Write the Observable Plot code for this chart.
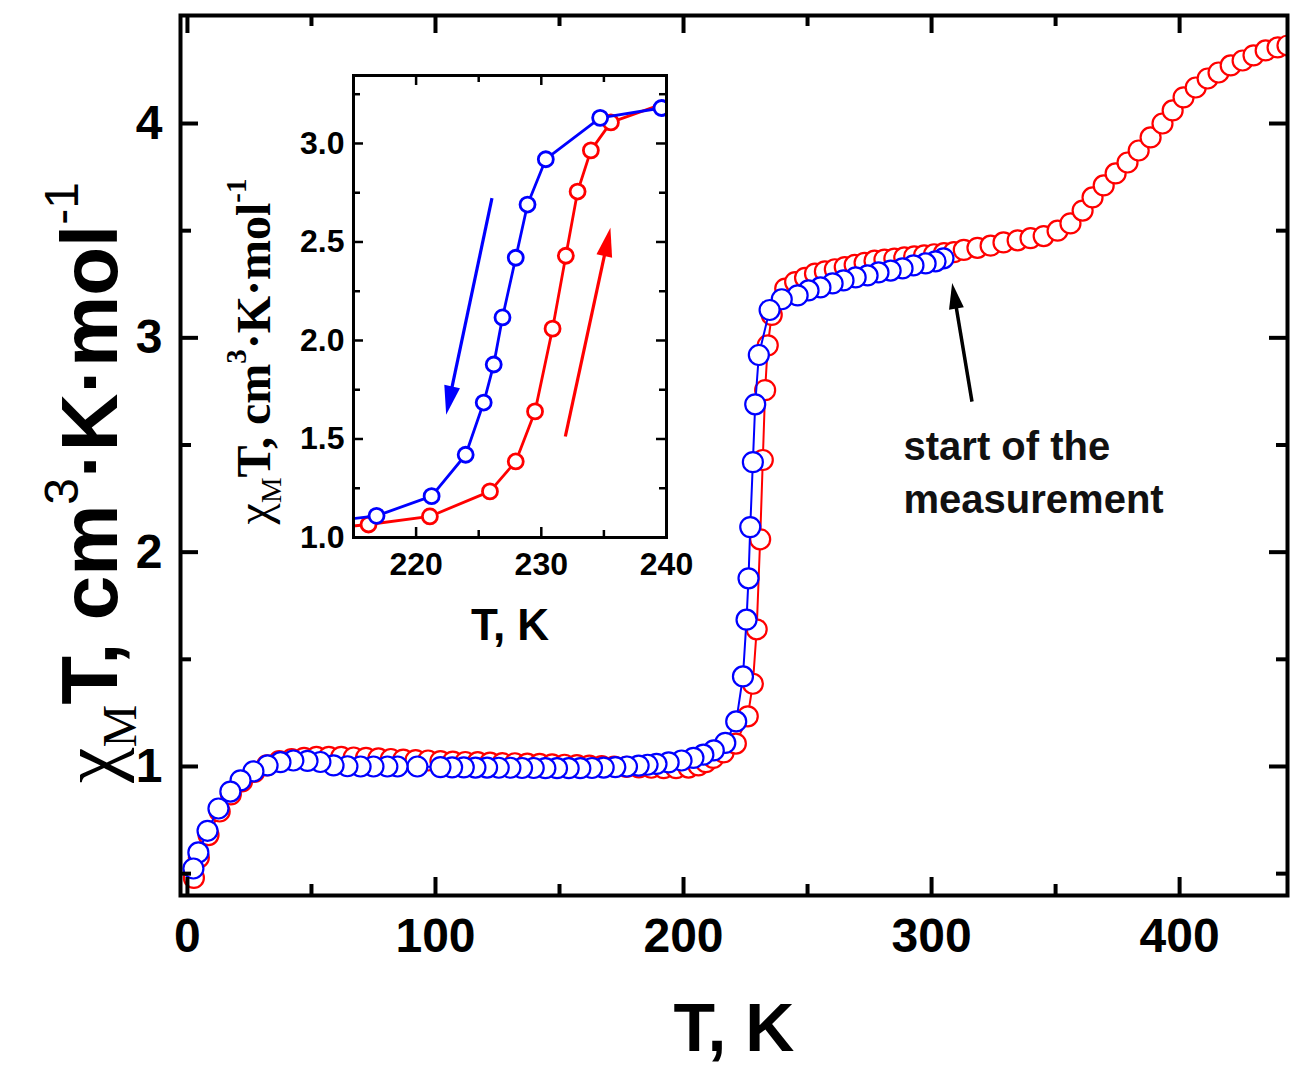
<!DOCTYPE html>
<html><head><meta charset="utf-8">
<script src="https://cdn.jsdelivr.net/npm/d3@7"></script>
<script src="https://cdn.jsdelivr.net/npm/@observablehq/plot@0.6"></script>
<style>
body{margin:0;background:#fff;}
#wrap{position:relative;width:1291px;height:1068px;background:#fff;overflow:hidden;}
#wrap svg{position:absolute;}
</style></head><body><div id="wrap"></div>
<script>
// ---------- data ----------
// heating branch (red), in measurement order
const heatT = [2.6, 4.6, 8.5, 13, 17.5, 22, 27, 32, 37, 42, 47, 52, 57, 62, 67, 72, 77, 82, 87, 92, 97, 102, 107, 112, 117, 122, 127, 132, 137, 142, 147, 152, 157, 162, 167, 172, 177, 182, 187, 192, 197, 202, 206, 209, 212, 216.2, 221.1, 225.9, 227.96, 229.5, 230.9, 231.96, 232.9, 233.96, 235.56, 241, 245, 249, 253, 257, 261, 265, 269, 273, 277, 281, 285, 289, 293, 297, 301, 305, 309, 313, 318.5, 323.8, 329, 334.7, 339.9, 345.2, 350.8, 356, 360.9, 364.9, 369.4, 374.2, 379, 383.5, 388.3, 393.1, 397.2, 401.6, 406.5, 411.3, 415.7, 420.6, 425.4, 429.8, 434.7, 439.5, 443.5];
const heatChi = [0.48, 0.575, 0.68, 0.79, 0.87, 0.93, 0.975, 1.005, 1.025, 1.035, 1.04, 1.045, 1.045, 1.045, 1.042, 1.04, 1.038, 1.035, 1.032, 1.03, 1.028, 1.025, 1.023, 1.021, 1.02, 1.018, 1.016, 1.015, 1.013, 1.012, 1.01, 1.008, 1.006, 1.004, 1.002, 1.0, 0.998, 0.996, 0.994, 0.992, 0.992, 0.995, 1.005, 1.02, 1.04, 1.066, 1.107, 1.234, 1.386, 1.64, 2.06, 2.43, 2.756, 2.965, 3.107, 3.23, 3.26, 3.28, 3.30, 3.31, 3.32, 3.33, 3.34, 3.35, 3.36, 3.365, 3.37, 3.375, 3.38, 3.385, 3.39, 3.395, 3.40, 3.41, 3.42, 3.43, 3.445, 3.455, 3.465, 3.475, 3.50, 3.534, 3.594, 3.655, 3.711, 3.767, 3.818, 3.874, 3.935, 4.0, 4.061, 4.122, 4.168, 4.21, 4.238, 4.271, 4.294, 4.318, 4.341, 4.355, 4.364];
// cooling branch (blue), in measurement order (starts at ~305 K)
const coolT = [304.8, 301.6, 297.6, 292.7, 288.3, 283.5, 278.6, 274.2, 269.4, 264.5, 260.1, 255.2, 250.4, 246.0, 239.6, 234.7, 230.36, 228.9, 227.96, 226.9, 226.2, 225.4, 223.96, 221.24, 216.84, 212.2, 208, 204, 199.2, 194, 189.1, 185.5, 181.9, 177.2, 172.5, 167.8, 163.1, 158.4, 153.7, 149, 144.3, 139.6, 134.9, 130.2, 125.5, 120.8, 116.1, 111.4, 106.7, 102, 92.7, 84.7, 80.6, 75, 69.8, 64.5, 58.9, 53.6, 48.4, 42.7, 37.5, 32.3, 26.6, 21.4, 17.3, 12.5, 8.1, 4.4, 2.4];
const coolChi = [3.371, 3.357, 3.347, 3.338, 3.324, 3.314, 3.305, 3.291, 3.282, 3.268, 3.254, 3.235, 3.221, 3.198, 3.18, 3.13, 2.92, 2.69, 2.42, 2.117, 1.878, 1.685, 1.42, 1.21, 1.11, 1.075, 1.055, 1.04, 1.028, 1.019, 1.012, 1.008, 1.004, 1.0, 0.997, 0.995, 0.993, 0.992, 0.992, 0.992, 0.992, 0.993, 0.993, 0.994, 0.994, 0.995, 0.995, 0.996, 0.996, 0.997, 1.0, 1.0, 1.0, 1.0, 1.0, 1.001, 1.005, 1.021, 1.026, 1.028, 1.02, 1.005, 0.977, 0.935, 0.883, 0.804, 0.70, 0.599, 0.524];

// tick values
const xTickLabels = [0, 100, 200, 300, 400];
const xMinorTicks = [50, 150, 250, 350];
const yTickLabels = [1, 2, 3, 4];
const yMinorTicks = [0.5, 1.5, 2.5, 3.5];
const insetXTickLabels = [220, 230, 240];
const insetXMinorTicks = [215, 225, 235];
const insetYTickLabels = [1.0, 1.5, 2.0, 2.5, 3.0];
const insetYMinorTicks = [1.25, 1.75, 2.25, 2.75, 3.25];

// annotations (data coordinates)
const mainArrows = [{x1: 316.5, y1: 2.70, x2: 308.5, y2: 3.254, color: "black"}];
const insetArrows = [
  {x1: 226.1, y1: 2.72, x2: 222.44, y2: 1.62, color: "#0000ff"},
  {x1: 231.96, y1: 1.51, x2: 235.56, y2: 2.57, color: "#ff0000"}
];
const noteText = "start of the\nmeasurement";
const notePos = {x: 288.7, y: 2.605};

// ---------- styling ----------
const RED = "#ff0000", BLUE = "#0000ff";
const SANS = "'Liberation Sans', Arial, Helvetica, sans-serif";
const SERIF = "'Liberation Serif', 'Times New Roman', serif";

const heat = heatT.map((T, i) => ({T, chi: heatChi[i]}));
const cool = coolT.map((T, i) => ({T, chi: coolChi[i]}));

function arrowMark(list, {headLength, headWidth, strokeWidth}) {
  return (index, scales) => {
    const g = d3.create("svg:g");
    for (const a of list) {
      const x1 = scales.x(a.x1), y1 = scales.y(a.y1), x2 = scales.x(a.x2), y2 = scales.y(a.y2);
      const dx = x2 - x1, dy = y2 - y1, L = Math.hypot(dx, dy), ux = dx / L, uy = dy / L;
      const bx = x2 - ux * headLength, by = y2 - uy * headLength;
      g.append("line").attr("x1", x1).attr("y1", y1).attr("x2", bx + ux * 3).attr("y2", by + uy * 3)
        .attr("stroke", a.color).attr("stroke-width", strokeWidth);
      const hw = headWidth / 2;
      g.append("path").attr("d", `M${x2},${y2}L${bx - uy * hw},${by + ux * hw}L${bx + uy * hw},${by - ux * hw}Z`)
        .attr("fill", a.color);
    }
    return g.node();
  };
}

function richText(svg, placeholder, parts) {
  d3.select(svg).selectAll("text").filter(function () { return this.textContent === placeholder; }).each(function () {
    const t = d3.select(this);
    t.text(null);
    let cur = 0;
    for (const p of parts) {
      const ts = t.append("tspan").text(p.text)
        .attr("font-family", p.family).attr("font-weight", p.weight).attr("font-size", p.size);
      const s = p.shift || 0;
      if (s !== cur) { ts.attr("dy", s - cur); cur = s; }
    }
  });
}

// ---------- main chart ----------
const W = 1291, H = 1068, mL = 180, mR = 4, mT = 15, mB = 173;
const iW = W - mL - mR, iH = H - mT - mB;
const MAJ = 18, MIN = 11;
const yTitle = "yTitleMain";

const main = Plot.plot({
  width: W, height: H, marginLeft: mL, marginRight: mR, marginTop: mT, marginBottom: mB,
  x: {domain: [-2.8, 443.5], label: null},
  y: {domain: [0.398, 4.504], label: null},
  style: {background: "transparent", color: "black", fontFamily: SANS, overflow: "visible"},
  marks: [
    Plot.line(heat, {x: "T", y: "chi", stroke: RED, strokeWidth: 2}),
    Plot.dot(heat, {x: "T", y: "chi", r: 10, stroke: RED, strokeWidth: 2.2, fill: "white", clip: true}),
    Plot.line(cool, {x: "T", y: "chi", stroke: BLUE, strokeWidth: 2}),
    Plot.dot(cool, {x: "T", y: "chi", r: 10, stroke: BLUE, strokeWidth: 2.2, fill: "white", clip: true}),
    arrowMark(mainArrows, {headLength: 26, headWidth: 15, strokeWidth: 3.5}),
    Plot.text([noteText], {x: () => notePos.x, y: () => notePos.y, textAnchor: "start", lineAnchor: "top",
      lineHeight: 1.33, fontSize: 40, fontWeight: "bold", fill: "#111"}),
    // ticks (inward, all four sides)
    Plot.tickX(xTickLabels, {x: d => d, insetTop: iH - MAJ, strokeWidth: 4}),
    Plot.tickX(xTickLabels, {x: d => d, insetBottom: iH - MAJ, strokeWidth: 4}),
    Plot.tickX(xMinorTicks, {x: d => d, insetTop: iH - MIN, strokeWidth: 4}),
    Plot.tickX(xMinorTicks, {x: d => d, insetBottom: iH - MIN, strokeWidth: 4}),
    Plot.tickY(yTickLabels, {y: d => d, insetRight: iW - MAJ, strokeWidth: 4}),
    Plot.tickY(yTickLabels, {y: d => d, insetLeft: iW - MAJ, strokeWidth: 4}),
    Plot.tickY(yMinorTicks, {y: d => d, insetRight: iW - MIN, strokeWidth: 4}),
    Plot.tickY(yMinorTicks, {y: d => d, insetLeft: iW - MIN, strokeWidth: 4}),
    Plot.frame({strokeWidth: 4}),
    Plot.axisX(xTickLabels, {anchor: "bottom", tickSize: 0, tickPadding: 22, fontSize: 48, fontWeight: "bold", label: null, tickFormat: "d"}),
    Plot.axisY(yTickLabels, {anchor: "left", tickSize: 0, tickPadding: 18, fontSize: 48, fontWeight: "bold", label: null, tickFormat: "d"}),
    Plot.text(["T, K"], {frameAnchor: "bottom", dy: 134, lineAnchor: "middle", fontSize: 68, fontWeight: "bold"}),
    Plot.text([yTitle], {frameAnchor: "left", dx: -64, dy: 27, rotate: -90, textAnchor: "middle", lineAnchor: "bottom", fontSize: 80})
  ]
});
const F = 80;
richText(main, yTitle, [
  {text: "\u03C7", family: SERIF, weight: "normal", size: F},
  {text: "M", family: SERIF, weight: "normal", size: 0.6 * F, shift: 0.24 * F},
  {text: "T, cm", family: SANS, weight: "bold", size: F, shift: 0},
  {text: "3", family: SANS, weight: "normal", size: 0.6 * F, shift: -0.48 * F},
  {text: "\u00B7K\u00B7mol", family: SANS, weight: "bold", size: F, shift: 0},
  {text: "-1", family: SANS, weight: "normal", size: 0.6 * F, shift: -0.48 * F}
]);
main.style.left = "0px"; main.style.top = "0px";
document.getElementById("wrap").appendChild(main);

// ---------- inset ----------
const IW = 500, IH = 620, imL = 153, imR = 34, imT = 25, imB = 133;
const iiW = IW - imL - imR, iiH = IH - imT - imB;
const IMAJ = 10, IMIN = 7;
const yTitleInset = "yTitleInset";
const inset = Plot.plot({
  width: IW, height: IH, marginLeft: imL, marginRight: imR, marginTop: imT, marginBottom: imB,
  x: {domain: [215, 240], label: null},
  y: {domain: [1.0, 3.345], label: null},
  style: {background: "transparent", color: "black", fontFamily: SANS, overflow: "visible"},
  marks: [
    Plot.line(heat, {x: "T", y: "chi", stroke: RED, strokeWidth: 2.8, clip: true}),
    Plot.dot(heat, {x: "T", y: "chi", r: 7.5, stroke: RED, strokeWidth: 2.8, fill: "white", clip: true}),
    Plot.line(cool, {x: "T", y: "chi", stroke: BLUE, strokeWidth: 2.8, clip: true}),
    Plot.dot(cool, {x: "T", y: "chi", r: 7.5, stroke: BLUE, strokeWidth: 2.8, fill: "white", clip: true}),
    arrowMark(insetArrows, {headLength: 29, headWidth: 16, strokeWidth: 3.2}),
    Plot.tickX(insetXTickLabels, {x: d => d, insetTop: iiH - IMAJ, strokeWidth: 2.5}),
    Plot.tickX(insetXTickLabels, {x: d => d, insetBottom: iiH - IMAJ, strokeWidth: 2.5}),
    Plot.tickX(insetXMinorTicks, {x: d => d, insetTop: iiH - IMIN, strokeWidth: 2.5}),
    Plot.tickX(insetXMinorTicks, {x: d => d, insetBottom: iiH - IMIN, strokeWidth: 2.5}),
    Plot.tickY(insetYTickLabels, {y: d => d, insetRight: iiW - IMAJ, strokeWidth: 2.5}),
    Plot.tickY(insetYTickLabels, {y: d => d, insetLeft: iiW - IMAJ, strokeWidth: 2.5}),
    Plot.tickY(insetYMinorTicks, {y: d => d, insetRight: iiW - IMIN, strokeWidth: 2.5}),
    Plot.tickY(insetYMinorTicks, {y: d => d, insetLeft: iiW - IMIN, strokeWidth: 2.5}),
    Plot.frame({strokeWidth: 3}),
    Plot.axisX(insetXTickLabels, {anchor: "bottom", tickSize: 0, tickPadding: 15, fontSize: 32, fontWeight: "bold", label: null, tickFormat: "d"}),
    Plot.axisY(insetYTickLabels, {anchor: "left", tickSize: 0, tickPadding: 9, fontSize: 32, fontWeight: "bold", label: null, tickFormat: ".1f"}),
    Plot.text(["T, K"], {frameAnchor: "bottom", dy: 88, lineAnchor: "middle", fontSize: 44, fontWeight: "bold"}),
    Plot.text([yTitleInset], {frameAnchor: "left", dx: -84, dy: 45, rotate: -90, textAnchor: "middle", lineAnchor: "bottom", fontSize: 48})
  ]
});
const G = 48;
richText(inset, yTitleInset, [
  {text: "\u03C7", family: SERIF, weight: "normal", size: G},
  {text: "M", family: SERIF, weight: "normal", size: 0.6 * G, shift: 0.24 * G},
  {text: "T, cm", family: SERIF, weight: "bold", size: G, shift: 0},
  {text: "3", family: SERIF, weight: "bold", size: 0.6 * G, shift: -0.48 * G},
  {text: "\u00B7K\u00B7mol", family: SERIF, weight: "bold", size: G, shift: 0},
  {text: "-1", family: SERIF, weight: "bold", size: 0.6 * G, shift: -0.48 * G}
]);
inset.style.left = "200px"; inset.style.top = "50px";
document.getElementById("wrap").appendChild(inset);
</script>
</body></html>
